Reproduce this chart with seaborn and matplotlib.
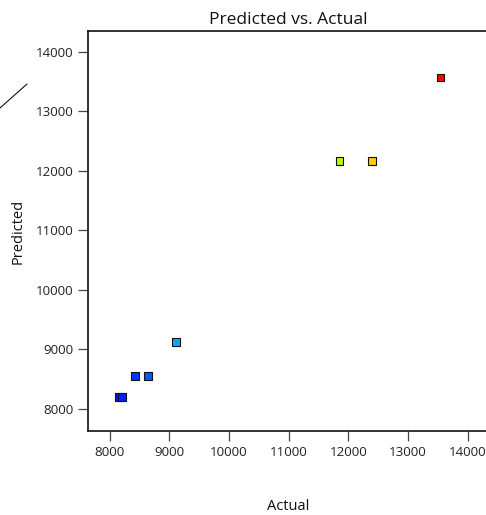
import matplotlib
matplotlib.use("Agg")
import matplotlib.pyplot as plt
import seaborn as sns
import pandas as pd
from matplotlib.lines import Line2D

# Data
actual = [8157, 8208, 8425, 8643, 9112, 11858, 12395, 13550]
predicted = [8198, 8198, 8551, 8551, 9123, 12165, 12165, 13576]
point_ids = ["p1", "p2", "p3", "p4", "p5", "p6", "p7", "p8"]
point_colors = ["#1010ff", "#0022ff", "#0033ff", "#0058ff", "#00aaff", "#b0ff00", "#ffcc00", "#ff0000"]
x_ticks = [8000, 9000, 10000, 11000, 12000, 13000, 14000]
y_ticks = [8000, 9000, 10000, 11000, 12000, 13000, 14000]

df = pd.DataFrame({"Actual": actual, "Predicted": predicted, "id": point_ids})

sns.set_theme(style="white")
plt.rcParams['font.family'] = ['Open Sans', 'DejaVu Sans']

fig = plt.figure(figsize=(4.86, 5.15), dpi=100)
ax = fig.add_axes([88/486, 84/515, 400/486, 400/515])

sns.scatterplot(data=df, x="Actual", y="Predicted", hue="id",
                palette=dict(zip(point_ids, point_colors)), marker="s",
                s=26, edgecolor="#111111", linewidth=0.8, legend=False, ax=ax)

ax.set_xlim(7638, 14338)
ax.set_ylim(7627, 14350)
ax.set_xticks(x_ticks)
ax.set_yticks(y_ticks)
ax.set_xticklabels([str(v) for v in x_ticks])
ax.set_yticklabels([str(v) for v in y_ticks])

ax.tick_params(axis="both", direction="out", length=7.5, width=0.9, color="#444444",
               labelsize=9.6, labelcolor="#222222", left=True, bottom=True)
ax.tick_params(axis="x", pad=3)
ax.tick_params(axis="y", pad=3)

for side in ["left", "bottom", "top"]:
    ax.spines[side].set_visible(True)
    ax.spines[side].set_color("#111111")
    ax.spines[side].set_linewidth(1.2)
ax.spines["right"].set_visible(False)

ax.set_title("Predicted vs. Actual", fontsize=12.5, color="#111111", pad=5)
ax.set_xlabel("Actual", fontsize=10.5, color="#111111", labelpad=29)
ax.set_ylabel("Predicted", fontsize=10.5, color="#111111", labelpad=7)

# Fragment of a diagonal line at the top-left edge
fig.add_artist(Line2D([0, 27/486], [1 - 108/515, 1 - 84/515], color="#111111", linewidth=0.8,
                      transform=fig.transFigure))

fig.savefig("out.png", dpi=100)
